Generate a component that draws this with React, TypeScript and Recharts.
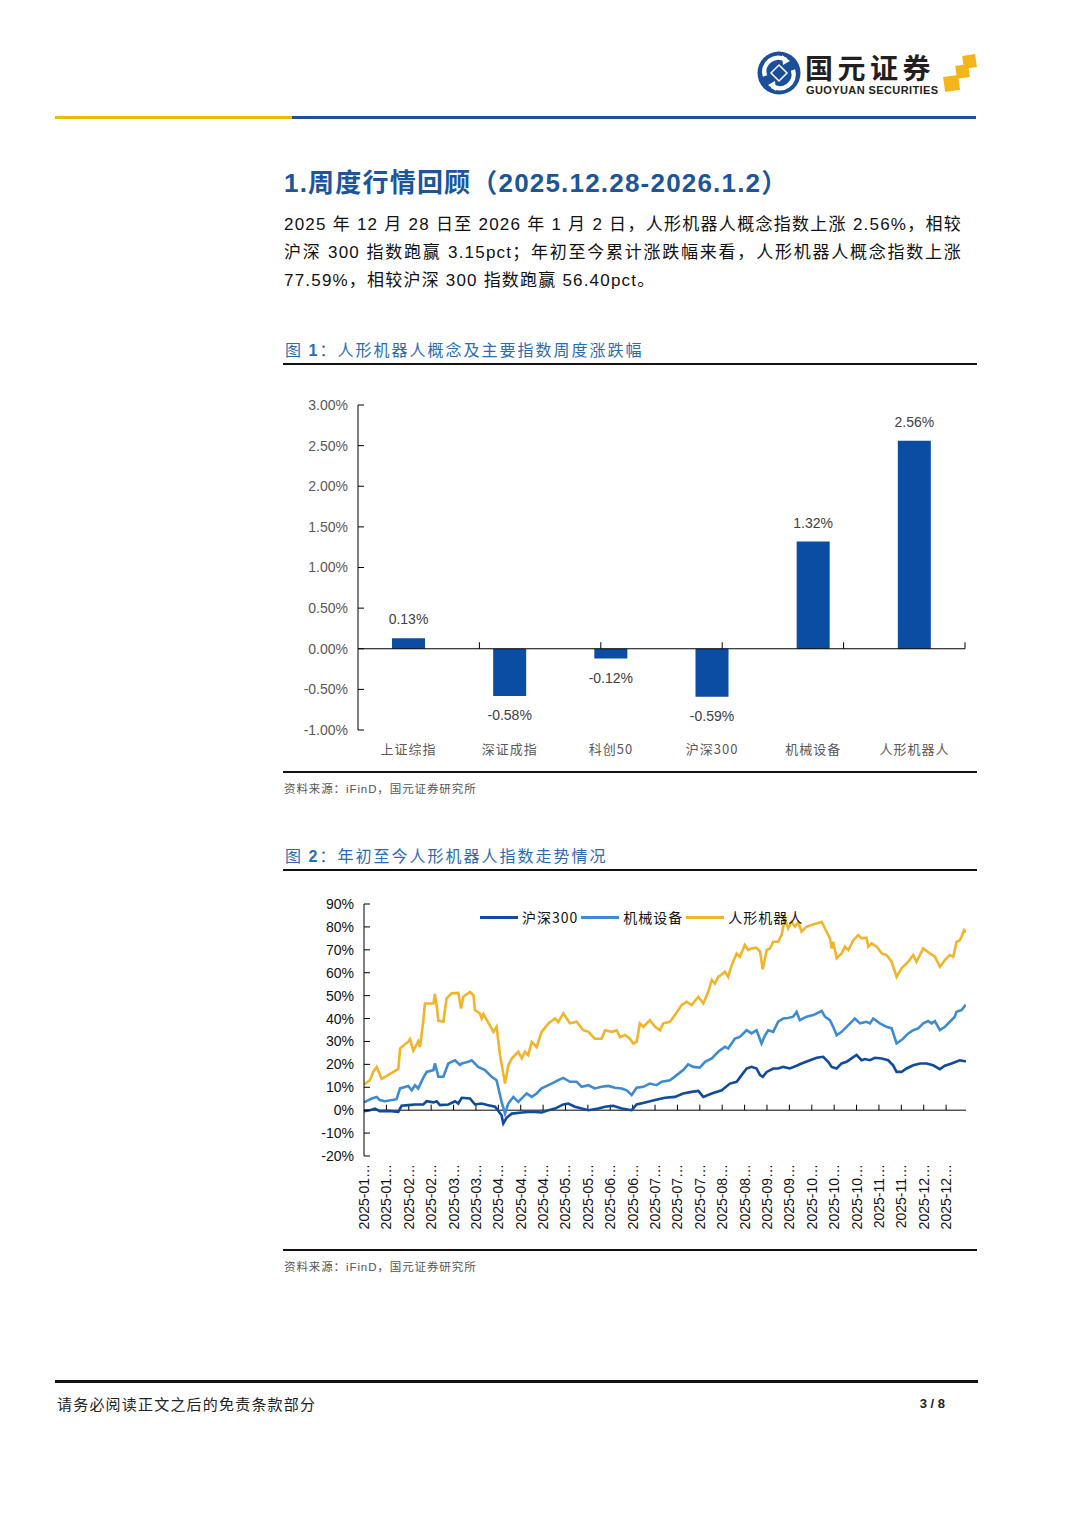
import React from 'react';
import { BarChart, Bar, LineChart, Line, XAxis, YAxis, ReferenceLine, LabelList } from 'recharts';

const SANS = '"Liberation Sans", Arial, "Noto Sans CJK SC", sans-serif';
const CJK = '"Noto Sans CJK SC", "Liberation Sans", sans-serif';

// 图1 周度涨跌幅
const barCategories = ['上证综指', '深证成指', '科创50', '沪深300', '机械设备', '人形机器人'];
const barValues = [0.13, -0.58, -0.12, -0.59, 1.32, 2.56];
const barTicks = [-1, -0.5, 0, 0.5, 1, 1.5, 2, 2.5, 3];
const barEdges = [1, 2, 3, 4, 5, 6];

// 图2 年初至今走势 (交易日序号, 累计涨跌幅%)
const lineTicks = [-20, -10, 0, 10, 20, 30, 40, 50, 60, 70, 80, 90];
const dateTickDays = [0, 9, 18, 27, 36, 45, 54, 63, 72, 81, 90, 99, 108, 117, 126, 135, 144, 153, 162, 171, 180, 189, 198, 207, 216, 225, 234];
const dateLabels = [
  '2025-01…', '2025-01…', '2025-02…', '2025-02…', '2025-03…', '2025-03…', '2025-04…', '2025-04…', '2025-04…',
  '2025-05…', '2025-05…', '2025-06…', '2025-06…', '2025-07…', '2025-07…', '2025-07…', '2025-08…', '2025-08…',
  '2025-09…', '2025-09…', '2025-10…', '2025-10…', '2025-10…', '2025-11…', '2025-11…', '2025-12…', '2025-12…',
];

const hs300: [number, number][] = [
  [0, -0.4], [2.4, 0], [4.4, 0.7], [6.3, -0.4], [9.8, -0.3], [13.8, -0.7], [15.1, 1.9], [17.8, 2.2], [20.5, 2.5],
  [23.8, 2.5], [25.2, 3.9], [27.9, 3.4], [29.2, 3.9], [30.5, 2.2], [33.9, 2.5], [36.6, 3.9], [37.9, 2.9], [39.3, 5.4],
  [42.6, 5.1], [44.6, 2.5], [47.3, 2.9], [50, 2.2], [52.7, 1.5], [55.3, -2.2], [56, -5.8], [57.3, -3.3], [59.4, -1.5],
  [63.4, -1.0], [67.4, -0.7], [71.4, -1.0], [74.1, 0], [76.8, 0.7], [80.1, 2.5], [82.1, 2.9], [84.8, 1.5], [87.5, 0.7],
  [90.2, 0], [94.2, 0.7], [96.9, 1.5], [100.2, 1.9], [103.6, 0.7], [107.6, 0], [109.6, 2.5], [113, 3.4], [117, 4.4],
  [121, 5.4], [125, 5.8], [128.3, 7.3], [131.7, 8.0], [134.4, 8.4], [136.4, 5.8], [139.8, 7.3], [143.8, 8.7],
  [147.1, 11.6], [149.8, 12.4], [151.8, 15.3], [153.8, 18.2], [155.8, 18.9], [157.8, 18.2], [159.2, 15.3], [160.3, 14.6],
  [161.9, 16.7], [164.5, 18.2], [166.5, 18.2], [168.5, 18.9], [171.2, 18.2], [173.9, 19.4], [175.9, 20.4], [179.3, 21.8],
  [182, 22.9], [184.6, 23.3], [186.6, 21.1], [188, 18.9], [190, 18.2], [192, 20.4], [194, 21.1], [196, 22.6], [198, 24.1],
  [200, 21.8], [201.4, 22.3], [203.4, 21.8], [205.4, 22.9], [208.1, 22.6], [210.7, 21.8], [212.7, 19.6], [214.1, 16.7],
  [216.1, 16.7], [218.1, 18.2], [220.8, 19.6], [223.5, 20.4], [226.2, 20.4], [228.8, 19.6], [231.5, 17.9], [233.5, 19.4],
  [236.2, 20.4], [239.5, 21.8], [241.6, 21.4], [242, 21.2],
];

const machinery: [number, number][] = [
  [0, 3.4], [3.1, 5.1], [5.1, 5.8], [6.3, 4.4], [8.4, 3.9], [13.1, 4.8], [14.5, 9.5], [17.8, 10.6], [19.2, 8.7],
  [20.5, 10.9], [21.8, 9.5], [23.8, 14.1], [25.2, 16.7], [27.9, 17.5], [28.5, 20.4], [29.9, 14.6], [31.9, 14.6],
  [33.9, 20.4], [36.6, 21.8], [38.6, 19.7], [39.3, 20.4], [41.9, 21.1], [43.3, 21.8], [45.9, 18.9], [48.6, 17.5],
  [51.3, 14.6], [53.3, 13.1], [55.3, 3.6], [56.7, -1.5], [58, 2.9], [60, 5.8], [62, 3.6], [64, 5.8], [65.4, 7.3],
  [67.4, 5.8], [69.4, 7.3], [71.4, 9.5], [75.4, 11.6], [78.1, 13.1], [80.1, 14.1], [82.8, 12.4], [85.5, 12.4],
  [87.5, 10.2], [90.2, 10.9], [92.8, 9.5], [95.5, 10.2], [98.2, 10.6], [100.9, 9.8], [103.6, 9.5], [105.6, 8.7],
  [107.6, 6.6], [109.6, 9.8], [112.3, 10.2], [114.9, 11.6], [117.6, 10.9], [119.7, 12.4], [123, 13.1], [125.7, 15.3],
  [128.3, 17.5], [130.3, 20.0], [132.4, 18.9], [135, 18.6], [137.1, 21.1], [139.8, 22.6], [142.4, 25.5], [145.1, 27.7],
  [146.4, 26.9], [149.1, 31.3], [151.1, 32.0], [153.8, 34.9], [155.8, 33.5], [157.8, 34.9], [159.8, 29.1], [161.2, 32.7],
  [162.5, 34.9], [164.5, 34.2], [166.5, 38.6], [168.5, 40.0], [170.5, 40.2], [172.5, 40.8], [173.9, 42.9], [175.2, 39.3],
  [177.9, 40.8], [180.6, 41.5], [184, 43.3], [185.3, 40.8], [187.3, 39.3], [188.6, 36.4], [190, 32.7], [192, 34.2],
  [194.7, 37.1], [197.3, 40.0], [199.4, 37.9], [202, 38.6], [203.4, 37.9], [204.7, 40.0], [207.4, 37.9], [210.1, 36.4],
  [212.1, 35.7], [214.1, 29.1], [216.1, 30.6], [218.8, 33.5], [220.8, 34.9], [222.8, 35.7], [224.8, 37.9], [226.8, 38.9],
  [228.2, 37.9], [229.5, 38.9], [231.5, 34.9], [233.5, 36.4], [235.5, 38.6], [237.5, 40.8], [238.2, 43.0], [240.2, 43.7],
  [241.6, 45.6], [242, 45.3],
];

const humanoid: [number, number][] = [
  [0, 11.2], [2.4, 13.1], [3.7, 16.7], [5.1, 18.9], [7.1, 13.7], [13.8, 18.0], [14.5, 27.0], [17.8, 29.9], [18.5, 31.0],
  [19.8, 26.0], [21.8, 30.0], [22.5, 27.5], [23.8, 38.6], [24.5, 46.6], [27.9, 46.6], [28.5, 50.7], [29.2, 45.8],
  [29.9, 39.0], [31.9, 38.6], [33.2, 48.8], [35.2, 51.0], [37.9, 51.2], [39, 44.4], [39.9, 49.5], [42.6, 51.6],
  [44, 50.2], [44.6, 43.7], [46.6, 42.2], [47.3, 40.0], [48, 42.0], [50.6, 37.0], [52, 34.2], [53.3, 36.4], [54.7, 24.0],
  [56.7, 11.6], [58, 19.6], [59.4, 22.5], [62, 25.5], [63.4, 22.6], [64.7, 25.5], [66, 24.0], [67.4, 29.8], [69.4, 27.6],
  [71.4, 34.2], [74.1, 37.9], [76.8, 40.0], [78.1, 38.5], [80.1, 42.2], [82.8, 37.9], [85.5, 38.6], [88.1, 34.9],
  [90.2, 34.2], [92.8, 31.2], [95.5, 31.2], [96.9, 34.9], [99.6, 34.2], [101.6, 34.9], [102.9, 31.9], [104.9, 32.8],
  [106.9, 31.2], [108.2, 29.1], [109.6, 29.8], [110.9, 37.9], [112.3, 36.4], [114.9, 39.3], [117, 36.4], [119, 34.9],
  [120.3, 37.9], [123, 38.6], [125, 41.5], [127.7, 45.9], [129.7, 47.3], [131.7, 45.9], [134.4, 49.5], [136.4, 46.6],
  [138.4, 51.7], [139.8, 56.8], [141.1, 55.3], [142.4, 58.2], [143.8, 59.2], [145.1, 60.4], [146.4, 58.2], [147.8, 63.3],
  [149.8, 68.4], [151.1, 67.0], [153.1, 72.1], [154.5, 69.9], [155.8, 70.6], [157.8, 70.9], [159.2, 69.2], [160.3, 61.5],
  [161.9, 70.0], [163.2, 70.6], [164.5, 73.5], [166.5, 73.5], [167.9, 76.6], [169.2, 83.7], [170.5, 79.3], [171.9, 82.2],
  [173.2, 80.1], [174.6, 82.0], [175.9, 77.9], [177.9, 80.1], [180.6, 81.1], [184, 82.2], [185.3, 79.3], [187.3, 75.0],
  [188, 70.6], [188.6, 73.5], [190, 66.3], [192, 68.4], [193.3, 71.4], [194.7, 69.9], [196.7, 74.2], [198.7, 76.4],
  [200, 75.0], [202, 75.3], [202.7, 71.4], [204.1, 72.8], [206.1, 71.4], [208.1, 68.4], [210.1, 67.7], [212.1, 64.8],
  [214.1, 58.2], [216.1, 61.9], [218.8, 64.8], [220.8, 67.7], [222.1, 64.8], [224.8, 70.6], [227.5, 68.4], [229.5, 67.0],
  [231.5, 62.6], [233.5, 65.5], [235.5, 67.7], [236.9, 67.0], [238.2, 73.5], [239.5, 74.2], [240.2, 75.7], [241.2, 78.6],
  [242, 77.6],
];

const SERIES = [
  { name: '沪深300', color: '#104B9E', points: hs300 },
  { name: '机械设备', color: '#3D8CD3', points: machinery },
  { name: '人形机器人', color: '#F2B42B', points: humanoid },
];

const barData = barCategories.map((name, i) => ({ name, value: barValues[i] }));
const toRows = (pts: [number, number][]) => pts.map(([day, v]) => ({ day, v }));

const CategoryTick = (props: any) => {
  const { x, y, payload } = props;
  return (
    <text x={x} y={y + 10} textAnchor="middle" dominantBaseline="central" fontSize={13}
      letterSpacing={1} fill="#595959" fontFamily={CJK}>
      {payload.value}
    </text>
  );
};

const DateTick = (props: any) => {
  const { x, y, payload } = props;
  const label = dateLabels[dateTickDays.indexOf(payload.value)];
  return (
    <text x={x} y={y} transform={`rotate(-90, ${x}, ${y})`} textAnchor="end" dominantBaseline="central"
      fontSize={14} fill="#111" fontFamily={SANS}>
      {label}
    </text>
  );
};

const renderBarLabel = (props: any) => {
  const vb = props.viewBox ?? props;
  const { x, y, width, height } = vb;
  const value = Number(props.value);
  const top = Math.min(y, y + height);
  const bottom = Math.max(y, y + height);
  const ty = value >= 0 ? top - 19 : bottom + 19;
  return (
    <text x={x + width / 2} y={ty} textAnchor="middle" dominantBaseline="central" fontSize={14}
      fill="#404040" fontFamily={SANS}>
      {value.toFixed(2)}%
    </text>
  );
};

function Logo() {
  return (
    <div style={{ position: 'absolute', left: 756, top: 50, width: 225, height: 50 }}>
      <svg width={225} height={50} style={{ position: 'absolute', left: 0, top: 0 }}>
        <circle cx={23} cy={23} r={21.5} fill="#1B4F9C" />
        <path d="M 9 26 A 14 14 0 0 1 30 10" stroke="#fff" strokeWidth={4.5} fill="none" />
        <path d="M 37 20 A 14 14 0 0 1 16 36" stroke="#fff" strokeWidth={4.5} fill="none" />
        <polygon points="26,5 34,11 27,15" fill="#fff" />
        <polygon points="20,41 12,35 19,31" fill="#fff" />
        <polygon points="23,15 31,23 23,31 15,23" fill="#1B4F9C" stroke="#fff" strokeWidth={1.5} />
        <rect x={188} y={26} width={15} height={15} fill="#F4B51A" transform="rotate(-8 195 33)" />
        <rect x={200} y={15} width={13} height={13} fill="#F4B51A" transform="rotate(-8 206 21)" />
        <rect x={207} y={5} width={13} height={13} fill="#F4B51A" transform="rotate(-8 213 11)" />
      </svg>
      <div style={{ position: 'absolute', left: 49, top: 3, fontFamily: CJK, fontWeight: 700, fontSize: 28,
        lineHeight: '28px', letterSpacing: 4.5, color: '#231F20', whiteSpace: 'nowrap' }}>国元证券</div>
      <div style={{ position: 'absolute', left: 50, top: 34, fontFamily: SANS, fontWeight: 700, fontSize: 11,
        lineHeight: '12px', color: '#231F20', letterSpacing: 0.4, whiteSpace: 'nowrap' }}>GUOYUAN SECURITIES</div>
    </div>
  );
}

function Rule({ top, left = 283, width = 694, h = 2 }: { top: number; left?: number; width?: number; h?: number }) {
  return <div style={{ position: 'absolute', left, top, width, height: h, background: '#111' }} />;
}

export default function App() {
  const para: React.CSSProperties = {
    position: 'absolute', left: 284, width: 678, fontFamily: SANS, fontSize: 17, lineHeight: '28px', color: '#111',
    whiteSpace: 'nowrap', letterSpacing: 1.2,
  };
  const caption: React.CSSProperties = {
    position: 'absolute', left: 285, fontFamily: CJK, fontSize: 16, lineHeight: '20px', color: '#2B6CB0',
    letterSpacing: 2, whiteSpace: 'nowrap',
  };
  const source: React.CSSProperties = {
    position: 'absolute', left: 284, fontFamily: CJK, fontSize: 11.5, lineHeight: '16px', color: '#555',
    letterSpacing: 0.9, whiteSpace: 'nowrap',
  };

  return (
    <div style={{ position: 'absolute', left: 0, top: 0, width: 1080, height: 1527, background: '#fff', overflow: 'hidden' }}>
      <Logo />
      <div style={{ position: 'absolute', left: 55, top: 116, width: 237, height: 3, background: '#F2B705' }} />
      <div style={{ position: 'absolute', left: 292, top: 116, width: 684, height: 3, background: '#1F4E9A' }} />

      <div style={{ position: 'absolute', left: 284, top: 168, fontFamily: SANS, fontSize: 26, fontWeight: 700,
        lineHeight: '30px', color: '#1C5599', whiteSpace: 'nowrap', letterSpacing: 1.2 }}>
        1.周度行情回顾（2025.12.28-2026.1.2）
      </div>

      <div style={{ ...para, top: 211, textAlign: 'justify', textAlignLast: 'justify' }}>
        2025 年 12 月 28 日至 2026 年 1 月 2 日，人形机器人概念指数上涨 2.56%，相较
      </div>
      <div style={{ ...para, top: 239, textAlign: 'justify', textAlignLast: 'justify' }}>
        沪深 300 指数跑赢 3.15pct；年初至今累计涨跌幅来看，人形机器人概念指数上涨
      </div>
      <div style={{ ...para, top: 267 }}>77.59%，相较沪深 300 指数跑赢 56.40pct。</div>

      <div style={{ ...caption, top: 339 }}>图 <b style={{ fontFamily: SANS }}>1</b>：人形机器人概念及主要指数周度涨跌幅</div>
      <Rule top={363} />

      <div style={{ position: 'absolute', left: 283, top: 385 }}>
        <BarChart width={700} height={380} data={barData} margin={{ top: 20, right: 18, bottom: 0, left: 0 }}>
          <XAxis dataKey="name" axisLine={false} tickLine={false} interval={0} tick={<CategoryTick />} height={35} />
          <XAxis xAxisId="edge" type="number" domain={[0, 6]} allowDataOverflow hide />
          <YAxis domain={[-1, 3]} ticks={barTicks} width={75} tickSize={-6} tickMargin={16}
            axisLine={{ stroke: '#000' }} tickLine={{ stroke: '#000' }}
            tick={{ fill: '#595959', fontSize: 14, fontFamily: SANS }}
            tickFormatter={(v: number) => `${v.toFixed(2)}%`} />
          <ReferenceLine y={0} stroke="#000" />
          {barEdges.map((e) => (
            <ReferenceLine key={e} xAxisId="edge" segment={[{ x: e, y: 0 }, { x: e, y: 0.08 }]} stroke="#000" />
          ))}
          <Bar dataKey="value" fill="#0B4DA2" barSize={33} isAnimationActive={false}>
            <LabelList dataKey="value" content={renderBarLabel} />
          </Bar>
        </BarChart>
      </div>

      <Rule top={771} />
      <div style={{ ...source, top: 780 }}>资料来源：<span style={{ fontFamily: SANS }}>iFinD</span>，国元证券研究所</div>

      <div style={{ ...caption, top: 845 }}>图 <b style={{ fontFamily: SANS }}>2</b>：年初至今人形机器人指数走势情况</div>
      <Rule top={869} />

      <div style={{ position: 'absolute', left: 283, top: 890 }}>
        <LineChart width={700} height={361} margin={{ top: 14, right: 17, bottom: 0, left: 0 }}>
          <XAxis dataKey="day" type="number" domain={[0, 242]} ticks={dateTickDays} interval={0} allowDataOverflow
            axisLine={false} tickLine={false} tick={<DateTick />} height={95} />
          <YAxis domain={[-20, 90]} ticks={lineTicks} width={81} tickSize={-6} tickMargin={16}
            axisLine={{ stroke: '#000' }} tickLine={{ stroke: '#000' }}
            tick={{ fill: '#111', fontSize: 14, fontFamily: SANS }}
            tickFormatter={(v: number) => `${v}%`} />
          <ReferenceLine y={0} stroke="#000" />
          {dateTickDays.slice(1).map((d) => (
            <ReferenceLine key={d} segment={[{ x: d, y: 0 }, { x: d, y: 2.4 }]} stroke="#000" />
          ))}
          {SERIES.map((s) => (
            <Line key={s.name} data={toRows(s.points)} dataKey="v" name={s.name} stroke={s.color} strokeWidth={2.6}
              dot={false} activeDot={false} isAnimationActive={false} />
          ))}
        </LineChart>
        <div style={{ position: 'absolute', left: 197, top: 17, display: 'flex', alignItems: 'center',
          fontFamily: CJK, fontSize: 14, color: '#111', whiteSpace: 'nowrap' }}>
          {SERIES.map((s) => (
            <div key={s.name} style={{ display: 'flex', alignItems: 'center', marginRight: 3 }}>
              <div style={{ width: 38, height: 3, background: s.color, marginRight: 4 }} />
              <span style={{ letterSpacing: 1 }}>{s.name}</span>
            </div>
          ))}
        </div>
      </div>

      <Rule top={1249} />
      <div style={{ ...source, top: 1258 }}>资料来源：<span style={{ fontFamily: SANS }}>iFinD</span>，国元证券研究所</div>

      <Rule top={1380} left={55} width={923} h={3} />
      <div style={{ position: 'absolute', left: 57, top: 1394, fontFamily: CJK, fontSize: 15, lineHeight: '20px',
        color: '#222', letterSpacing: 1.2, whiteSpace: 'nowrap' }}>请务必阅读正文之后的免责条款部分</div>
      <div style={{ position: 'absolute', left: 900, width: 45, top: 1396, textAlign: 'right', fontFamily: SANS,
        fontSize: 13, fontWeight: 700, lineHeight: '16px', color: '#222' }}>3 / 8</div>
    </div>
  );
}
